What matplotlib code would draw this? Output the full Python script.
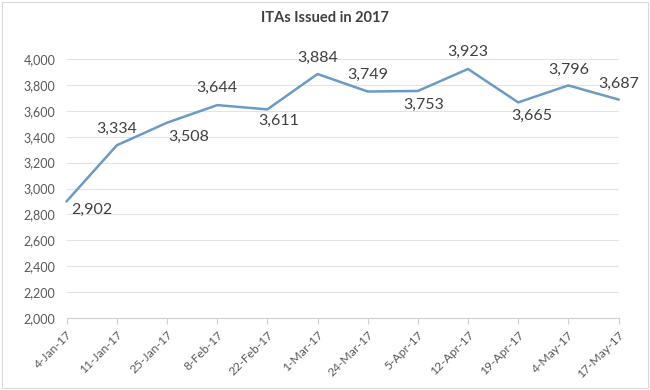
import matplotlib
matplotlib.use("Agg")
import matplotlib.pyplot as plt
from matplotlib.patches import Rectangle
from matplotlib.ticker import FuncFormatter, MultipleLocator

dates = ["4-Jan-17", "11-Jan-17", "25-Jan-17", "8-Feb-17", "22-Feb-17", "1-Mar-17",
         "24-Mar-17", "5-Apr-17", "12-Apr-17", "19-Apr-17", "4-May-17", "17-May-17"]
itas = [2902, 3334, 3508, 3644, 3611, 3884, 3749, 3753, 3923, 3665, 3796, 3687]
title = "ITAs Issued in 2017"

# label offsets in pixels (style only)
label_offsets = [(25, -9), (0, 16), (22, -14), (0, 17), (11, -12), (0, 16),
                 (0, 17), (6, -14), (0, 17), (14, -14), (0, 16), (0, 16)]

plt.rcParams['font.family'] = ['Lato', 'DejaVu Sans']

fig = plt.figure(figsize=(6.5, 3.9), dpi=100)
fig.patches.append(Rectangle((0.003, 0.005), 0.994, 0.99, transform=fig.transFigure,
                             fill=False, edgecolor='#d9d9d9', linewidth=0.8))
ax = fig.add_axes([66.7 / 650, 1 - 318 / 390, (618.5 - 66.7) / 650, (318 - 59) / 390])

x = list(range(len(dates)))
ax.plot(x, itas, color='#6a9bc6', linewidth=1.8, clip_on=False, zorder=3)

for xi, v, (dx, dy) in zip(x, itas, label_offsets):
    ax.annotate(f"{v:,}", (xi, v), xytext=(dx, dy), textcoords='offset pixels',
                ha='center', va='center', fontsize=11.5, color='#404040')

ax.set_xlim(0, len(dates) - 1)
ax.set_ylim(2000, 4000)
ax.yaxis.set_major_locator(MultipleLocator(200))
ax.yaxis.set_major_formatter(FuncFormatter(lambda v, p: f"{int(v):,}"))
ax.set_xticks(x)
ax.set_xticklabels(dates, rotation=45, ha='right', va='top', rotation_mode='anchor',
                   fontsize=8.7, color='#595959')

ax.grid(axis='y', color='#e3e3e3', linewidth=0.8)
ax.set_axisbelow(True)
for s in ['top', 'right', 'left']:
    ax.spines[s].set_visible(False)
ax.spines['bottom'].set_color('#d0d0d0')
ax.spines['bottom'].set_linewidth(0.8)
ax.tick_params(axis='y', length=0, labelsize=9, labelcolor='#595959', pad=8)
ax.tick_params(axis='x', length=4, color='#d0d0d0', width=0.8, pad=4)

fig.text(325 / 650, 1 - 18 / 390, title, ha='center', va='center',
         fontsize=10.5, fontweight='bold', color='#404040')

fig.savefig("out.png", dpi=100)
